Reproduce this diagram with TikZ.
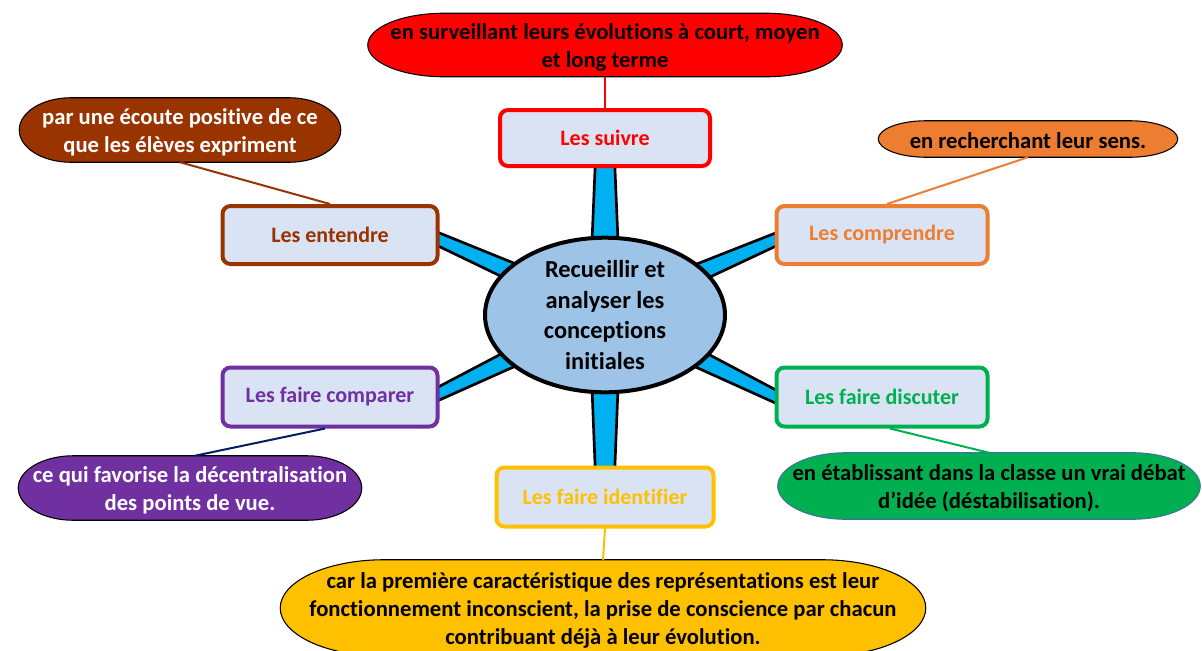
\documentclass[tikz,border=0pt]{standalone}
\usepackage{fontspec}
\setmainfont{Carlito}[Ligatures=NoCommon]
\usetikzlibrary{calc,shapes.geometric}
\pgfdeclarelayer{background}
\pgfsetlayers{background,main}
\definecolor{boxfill}{HTML}{DAE3F3}
\definecolor{cred}{HTML}{FF0000}
\definecolor{cbrown}{HTML}{993300}
\definecolor{corange}{HTML}{ED7D31}
\definecolor{cpurple}{HTML}{7030A0}
\definecolor{cgreen}{HTML}{00B050}
\definecolor{cgold}{HTML}{FFC000}
\definecolor{cnavy}{HTML}{002060}
\definecolor{cgreenedge}{HTML}{41719C}
\definecolor{centerfill}{HTML}{9DC3E6}
\definecolor{spikefill}{HTML}{00B0F0}
\tikzset{
  stepbox/.style={draw, rounded corners=6pt, line width=3pt, fill=boxfill,
    font=\fontsize{16.5}{19}\selectfont\bfseries, align=center},
  ovaltext/.style={draw=none, align=center, inner sep=0pt,
    font=\fontsize{17}{21}\selectfont\bfseries},
  spike/.style={fill=spikefill, draw=black, line width=2pt, line join=round},
  link/.style={line width=1.5pt},
  centernode/.style={ellipse, draw=black, line width=3pt, fill=centerfill,
    align=center, font=\fontsize{18.3}{23}\selectfont\bfseries, inner sep=0pt}
}
% terminator-like shape behind a named node (shape raised 2px above the text box)
\newcommand\termshape[3]{%
  \begin{pgfonlayer}{background}
  \path let \p1=($(#1.south west)+(0,-2)$), \p2=($(#1.north east)+(0,-2)$),
        \n1={0.161*(\x2-\x1)}, \n2={(\y2-\y1)/2} in
    [fill=#2, draw=#3, line width=0.8pt]
    (\x1+\n1,\y1) -- (\x2-\n1,\y1)
    arc[start angle=-90, end angle=90, x radius=\n1, y radius=\n2]
    -- (\x1+\n1,\y2)
    arc[start angle=90, end angle=270, x radius=\n1, y radius=\n2] -- cycle;
  \end{pgfonlayer}}
\begin{document}
\begin{tikzpicture}[x=0.75pt,y=-0.75pt]
\clip (0,0) rectangle (1202,650);
\begin{pgfonlayer}{background}
\fill[white] (0,0) rectangle (1202,650);
\end{pgfonlayer}

% spike end points
\coordinate (cc) at (605,313);
\coordinate (sT) at (605,138);
\coordinate (sB) at (605,497);
\coordinate (sUL) at (404,224);
\coordinate (sUR) at (807,226);
\coordinate (sLL) at (407,409);
\coordinate (sLR) at (803,410);

% spikes
\foreach \e in {sT,sB}{
  \draw[spike] ($(cc)!12pt!90:(\e)$) -- ($(\e)!6.5pt!-90:(cc)$)
    -- ($(\e)!6.5pt!90:(cc)$) -- ($(cc)!12pt!-90:(\e)$) -- cycle;
}
\foreach \e in {sUL,sUR,sLL,sLR}{
  \draw[spike] ($(cc)!9pt!90:(\e)$) -- ($(\e)!3.75pt!-90:(cc)$)
    -- ($(\e)!3.75pt!90:(cc)$) -- ($(cc)!9pt!-90:(\e)$) -- cycle;
}

% centre
\node[centernode, minimum width=240*0.75pt, minimum height=137*0.75pt] (c) at (605,315)
  {Recueillir et\\analyser les\\conceptions\\initiales};

% boxes
\node[stepbox, draw=cred, text=cred, minimum width=210*0.75pt, minimum height=56*0.75pt] (b1) at (605,138) {Les suivre};
\node[stepbox, draw=cbrown, text=cbrown, minimum width=215*0.75pt, minimum height=58*0.75pt] (b2) at (330,235) {Les entendre};
\node[stepbox, draw=corange, text=corange, minimum width=211*0.75pt, minimum height=58*0.75pt] (b3) at (882,235) {Les comprendre};
\node[stepbox, draw=cpurple, text=cpurple, minimum width=215*0.75pt, minimum height=59*0.75pt] (b5) at (330,397) {Les faire comparer};
\node[stepbox, draw=cgreen, text=cgreen, minimum width=211*0.75pt, minimum height=59*0.75pt] (b6) at (882,397) {Les faire discuter};
\node[stepbox, draw=cgold, text=cgold, minimum width=217*0.75pt, minimum height=59*0.75pt] (b7) at (605,497) {Les faire identifier};

% ovals (text placed 2px below the shape centre)
\node[ovaltext, minimum width=474*0.75pt, minimum height=63*0.75pt] (o1) at (605,47)
  {en surveillant leurs évolutions à court, moyen\\et long terme};
\termshape{o1}{cred}{black}
\node[ovaltext, text=white, minimum width=321*0.75pt, minimum height=64*0.75pt] (o2) at (180,132)
  {par une écoute positive de ce\\que les élèves expriment};
\termshape{o2}{cbrown}{black}
\node[ovaltext, minimum width=299*0.75pt, minimum height=36*0.75pt] (o3) at (1028,141)
  {en recherchant leur sens.};
\termshape{o3}{corange}{black}
\node[ovaltext, text=white, minimum width=343*0.75pt, minimum height=64*0.75pt] (o5) at (190,490)
  {ce qui favorise la décentralisation\\des points de vue.};
\termshape{o5}{cpurple}{black}
\node[ovaltext, minimum width=422*0.75pt, minimum height=66*0.75pt] (o6) at (989,488)
  {en établissant dans la classe un vrai débat\\d’idée (déstabilisation).};
\termshape{o6}{cgreen}{cgreenedge}
\node[ovaltext, minimum width=645*0.75pt, minimum height=96*0.75pt] (o7) at (603,610)
  {car la première caractéristique des représentations est leur\\fonctionnement inconscient, la prise de conscience par chacun\\contribuant déjà à leur évolution.};
\termshape{o7}{cgold}{black}

% connectors
\draw[link, cred] ($(o1.south)+(0,-2)$) -- (b1.north);
\draw[link, cbrown] ($(o2.south)+(0,-2)$) -- (b2.north);
\draw[link, corange] ($(o3.south)+(0,-2)$) -- ($(b3.north)+(5,0)$);
\draw[link, cnavy] ($(b5.south)+(-5,0)$) -- ($(o5.north)+(5,-2)$);
\draw[link, cgreen] ($(b6.south)+(8,0)$) -- ($(o6.north)+(0,-2)$);
\draw[link, cgold] (b7.south) -- ($(o7.north)+(0,-2)$);
\end{tikzpicture}
\end{document}
